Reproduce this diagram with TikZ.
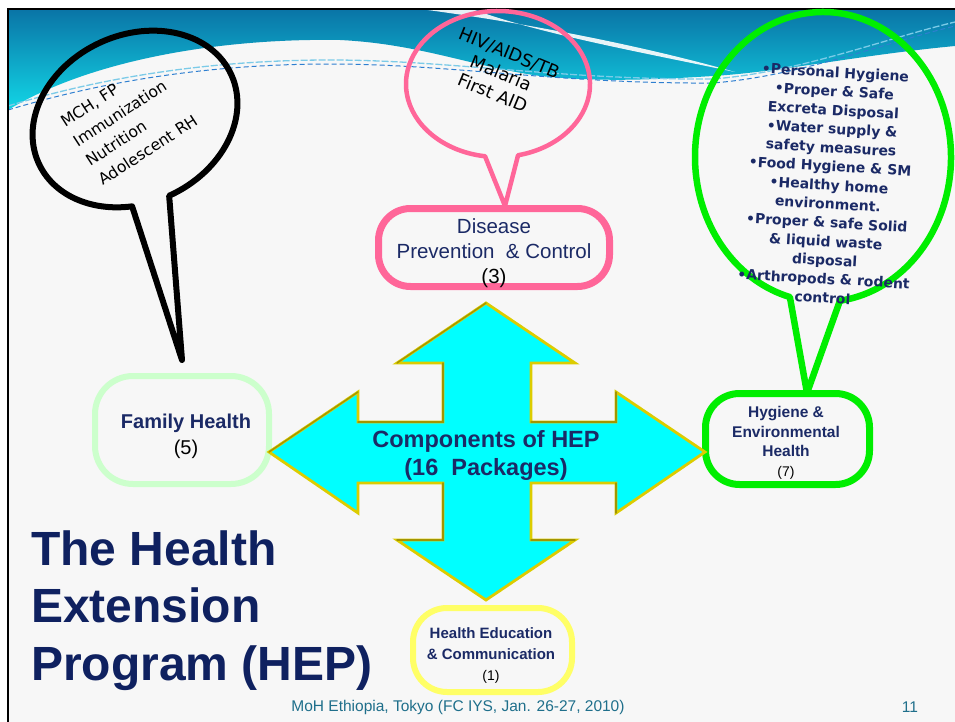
\documentclass[tikz,border=0pt]{standalone}
\usepackage{fontspec}
\setmainfont{Liberation Sans}
\newfontfamily\verd{DejaVu Sans}
\usetikzlibrary{calc}
\definecolor{navy}{HTML}{1B2A66}
\definecolor{titlenavy}{HTML}{0F2160}
\definecolor{pinkc}{HTML}{FF6699}
\definecolor{lgreen}{HTML}{CCFFCC}
\definecolor{gr}{HTML}{00EE00}
\definecolor{yel}{HTML}{FFFF66}
\definecolor{aqua}{HTML}{00FFFF}
\definecolor{goldb}{HTML}{DCCC00}
\definecolor{olive}{HTML}{A39500}
\definecolor{footc}{HTML}{1F6F8B}
\definecolor{slidebg}{HTML}{F7F7F7}
\definecolor{bannertop}{HTML}{0A74A6}
\definecolor{bannerbot}{HTML}{12D6E6}
\definecolor{dotA}{HTML}{7CCBE8}
\definecolor{dotB}{HTML}{2E7FD0}
\begin{document}
\begin{tikzpicture}[x=1pt,y=-1pt,
  box/.style={draw, inner sep=0pt},
  lbl/.style={inner sep=0pt, align=center},
  shadeedge/.style={olive, line width=1.4pt, line cap=round}]
\useasboundingbox (0,0) rectangle (955,722);
\clip (0,0) rectangle (955,722);
\fill[white] (0,0) rectangle (955,722);
\fill[slidebg] (8,9) rectangle (955,722);
% banner
\shade[top color=bannertop, bottom color=bannerbot] (8,9) -- (955,9) -- (955,46)
  .. controls (860,55) and (780,72) .. (713,76)
  .. controls (650,80) and (600,82) .. (540,76)
  .. controls (470,66) and (420,44) .. (340,40)
  .. controls (220,38) and (90,60) .. (8,110) -- cycle;
\fill[white, opacity=0.9] (420,9) .. controls (520,22) and (640,45) .. (735,72)
  .. controls (640,52) and (540,34) .. (472,9) -- cycle;
\draw[dotA, line width=1.3pt, dash pattern=on 7pt off 2pt] (8,106) .. controls (120,72) and (230,60) .. (330,60)
  .. controls (450,60) and (560,80) .. (713,79) .. controls (800,72) and (880,40) .. (955,22);
\draw[dotB, line width=1pt, dash pattern=on 5pt off 3pt] (8,110) .. controls (120,76) and (230,64) .. (330,64)
  .. controls (450,64) and (560,84) .. (713,83) .. controls (800,76) and (880,44) .. (955,26);
% frame
\draw[black, line width=2.5pt] (8,722) -- (8,9) -- (955,9);

% black bubble
\coordinate (btip) at (182,360);
\begin{scope}[shift={(135,119)}, rotate=25]
\draw[line width=6pt, line join=round] (0,0) ++(90.8:106 and 84)
  arc[start angle=90.8, end angle=-248.1, x radius=106, y radius=84] -- (btip) -- cycle;
\end{scope}
\node[rotate=33, align=left, inner sep=0pt, font=\verd\fontsize{15.7}{23}\selectfont] (btxt) at (129,121)
  {MCH, FP\\Immunization\\Nutrition\\Adolescent RH};

% pink bubble
\coordinate (ptip) at (505,206);
\draw[pinkc, line width=4.5pt, line join=round] (498,84) ++(77.4:92 and 73)
  arc[start angle=77.4, end angle=-261.9, x radius=92, y radius=73] -- (ptip) -- cycle;
\node[rotate=-22.5, align=center, inner sep=0pt, font=\verd\fontsize{17.6}{21.7}\selectfont] (ptxt) at (501,73)
  {HIV/AIDS/TB\\Malaria\\First AID};

% green bubble
\coordinate (gtip) at (807,393);
\draw[gr, line width=6.5pt, line join=round] (823,157) ++(82.4:128 and 145)
  arc[start angle=82.4, end angle=-255, x radius=128, y radius=145] -- (gtip) -- cycle;
\node[rotate=-3.3, align=center, inner sep=0pt, text=navy, font=\verd\bfseries\fontsize{14}{18.8}\selectfont] (gtxt) at (829,185)
  {•Personal Hygiene\\•Proper \& Safe\\Excreta Disposal\\•Water supply \&\\safety measures\\•Food Hygiene \& SM\\•Healthy home\\environment.\\•Proper \& safe Solid\\\& liquid waste\\disposal\\•Arthropods \& rodent\\control};

% boxes
\node[box, draw=pinkc, line width=7pt, minimum width=231pt, minimum height=78pt, rounded corners=32pt] (dis) at (494,247.5) {};
\node[box, draw=lgreen, line width=6pt, minimum width=174pt, minimum height=108pt, rounded corners=38pt] (fam) at (182,430) {};
\node[box, draw=gr, line width=7pt, minimum width=164pt, minimum height=91pt, rounded corners=34pt] (hyg) at (787.5,439) {};
\node[box, draw=yel, line width=6pt, minimum width=159pt, minimum height=84pt, rounded corners=34pt] (hed) at (492.5,650) {};

\node[lbl, text=navy, font=\fontsize{20.5}{25}\selectfont] (distxt) at (494,253)
  {Disease\\Prevention\ \ \& Control\\\textcolor{black}{(3)}};
\node[lbl, text=navy, font=\fontsize{20}{26}\selectfont] (famtxt) at (186,436)
  {\textbf{Family Health}\\\textcolor{black}{(5)}};
\node[lbl, text=navy, font=\bfseries\fontsize{15.5}{19.5}\selectfont] (hygtxt) at (786,443)
  {Hygiene \&\\Environmental\\Health\\\textcolor{black}{\mdseries\fontsize{14}{19.5}\selectfont (7)}};
\node[lbl, text=navy, font=\bfseries\fontsize{15}{21}\selectfont] (hedtxt) at (491,656)
  {Health Education\\\& Communication\\\textcolor{black}{\mdseries\fontsize{14}{21}\selectfont (1)}};

% central arrow
\filldraw[fill=aqua, draw=goldb, line width=2.8pt, line join=miter]
  (486,303) -- (575,363) -- (531,363) -- (531,422) -- (616,422) -- (616,392) -- (705,452)
  -- (616,513) -- (616,483) -- (531,483) -- (531,540) -- (575,540) -- (486,600)
  -- (397,540) -- (443,540) -- (443,483) -- (358,483) -- (358,513) -- (269,452)
  -- (358,392) -- (358,422) -- (443,422) -- (443,363) -- (397,363) -- cycle;
\draw[shadeedge] (397,363) -- (486,303);
\draw[shadeedge] (269,452) -- (358,392);
\draw[shadeedge] (358,422) -- (443,422) -- (443,363);
\draw[shadeedge] (531,422) -- (616,422) -- (616,392);
\draw[shadeedge] (397,540) -- (443,540) -- (443,483);
\draw[shadeedge] (531,540) -- (575,540);
\draw[shadeedge] (616,483) -- (616,513);
\node[lbl, text=navy, font=\bfseries\fontsize{23.5}{28}\selectfont] (hep) at (486,455)
  {Components of HEP\\(16\ \ Packages)};

% title
\node[anchor=base west, inner sep=0pt, text=titlenavy, font=\bfseries\fontsize{48}{57}\selectfont] (t1) at (31,565) {The Health};
\node[anchor=base west, inner sep=0pt, text=titlenavy, font=\bfseries\fontsize{48}{57}\selectfont] (t2) at (31,622) {Extension};
\node[anchor=base west, inner sep=0pt, text=titlenavy, font=\bfseries\fontsize{48}{57}\selectfont] (t3) at (31,680) {Program (HEP)};

% footer
\node[inner sep=0pt, text=footc, font=\fontsize{15.5}{18}\selectfont] (foot) at (458,707) {MoH Ethiopia, Tokyo (FC IYS, Jan. 26-27, 2010)};
\node[inner sep=0pt, text=footc, font=\fontsize{15.5}{18}\selectfont] (pg) at (910,707) {11};
\end{tikzpicture}
\end{document}
